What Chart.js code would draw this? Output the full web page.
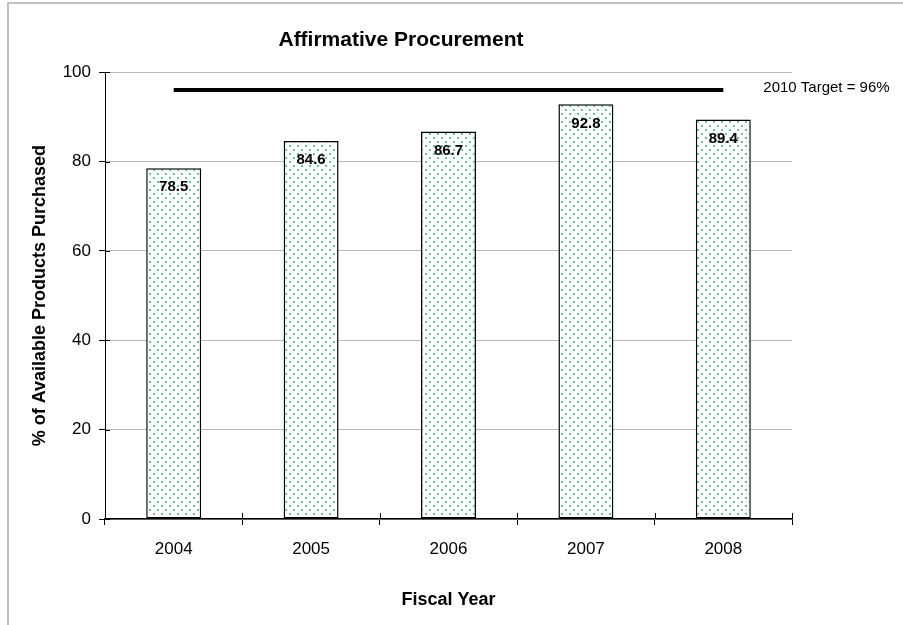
<!DOCTYPE html>
<html>
<head>
<meta charset="utf-8">
<script src="https://cdn.jsdelivr.net/npm/chart.js@4/dist/chart.umd.min.js"></script>
<style>
  html, body { margin: 0; padding: 0; background: #fff; overflow: hidden; }
  #frame { position: absolute; left: 7px; top: 2px; width: 1000px; height: 1000px;
           border-left: 2px solid #c0c0c0; border-top: 2px solid #c0c0c0; pointer-events: none; }
  canvas { position: absolute; left: 0; top: 0; }
</style>
</head>
<body>
<canvas id="procChart" width="903" height="625"></canvas>
<div id="frame"></div>
<script>
  // data
  const years = ['2004', '2005', '2006', '2007', '2008'];
  const purchased = [78.5, 84.6, 86.7, 92.8, 89.4];
  const target = [96, 96, 96, 96, 96];
  const targetLabel = '2010 Target = 96%';
  const yMin = 0, yMax = 100, yStep = 20;

  const FONT = 'Arial, "Liberation Sans", sans-serif';

  // dotted green fill like the old Excel pattern
  function dotPattern() {
    const c = document.createElement('canvas');
    c.width = 8; c.height = 8;
    const g = c.getContext('2d');
    g.fillStyle = '#ffffff';
    g.fillRect(0, 0, 8, 8);
    g.fillStyle = 'rgb(110,196,150)';
    g.fillRect(1, 1, 2, 2);
    g.fillRect(5, 5, 2, 2);
    return document.getElementById('procChart').getContext('2d').createPattern(c, 'repeat');
  }

  // ticks that cross the axis lines, plus value labels and target note
  const extras = {
    id: 'extras',
    afterDatasetsDraw(chart) {
      const ctx = chart.ctx;
      const x = chart.scales.x, y = chart.scales.y;
      ctx.save();
      ctx.strokeStyle = '#000';
      ctx.lineWidth = 1;
      const step = x.width / years.length;
      for (let i = 0; i <= years.length; i++) {
        const px = Math.round(x.left + i * step) + 0.5;
        ctx.beginPath();
        ctx.moveTo(px, x.top - 6);
        ctx.lineTo(px, x.top);
        ctx.stroke();
      }
      for (let v = yMin; v <= yMax; v += yStep) {
        const py = Math.round(y.getPixelForValue(v)) + 0.5;
        ctx.beginPath();
        ctx.moveTo(y.right, py);
        ctx.lineTo(y.right + 5, py);
        ctx.stroke();
      }

      // bar values
      ctx.fillStyle = '#000';
      ctx.font = 'bold 15px ' + FONT;
      ctx.textAlign = 'center';
      ctx.textBaseline = 'middle';
      chart.getDatasetMeta(1).data.forEach((bar, i) => {
        ctx.fillText(purchased[i].toFixed(1), bar.x, bar.y + 19);
      });

      // target note
      ctx.font = '15px ' + FONT;
      ctx.textAlign = 'left';
      ctx.fillText(targetLabel, x.getPixelForValue(years.length - 1) + 40, y.getPixelForValue(target[0]) - 2);
      ctx.restore();
    }
  };

  const ctx = document.getElementById('procChart').getContext('2d');
  const procChart = new Chart(ctx, {
    type: 'bar',
    data: {
      labels: years,
      datasets: [
        {
          type: 'line',
          label: 'Target',
          data: target,
          borderColor: '#000',
          borderWidth: 4,
          pointRadius: 0,
          order: 0
        },
        {
          label: 'Purchased',
          data: purchased,
          backgroundColor: dotPattern(),
          borderColor: '#000',
          borderWidth: 1.5,
          borderSkipped: false,
          categoryPercentage: 1,
          barPercentage: 0.4,
          order: 1
        }
      ]
    },
    options: {
      responsive: false,
      animation: false,
      layout: { padding: { left: 10, right: 111, top: 0, bottom: 10 } },
      plugins: {
        legend: { display: false },
        tooltip: { enabled: false },
        title: {
          display: true,
          text: 'Affirmative Procurement',
          color: '#000',
          font: { family: FONT, size: 21, weight: 'bold' },
          padding: { top: 28, bottom: 19 }
        }
      },
      scales: {
        x: {
          afterFit: function(scale) { scale.height = 96; },
          border: { color: '#000', width: 1.5 },
          grid: { offset: true, drawOnChartArea: false, tickLength: 6, tickColor: '#000' },
          ticks: { color: '#000', padding: 14, font: { family: FONT, size: 17 } },
          title: {
            display: true,
            text: 'Fiscal Year',
            color: '#000',
            font: { family: FONT, size: 18, weight: 'bold' },
            padding: { top: 0, bottom: 4 }
          }
        },
        y: {
          min: yMin,
          max: yMax,
          afterFit: function(scale) { scale.width = 95; },
          border: { color: '#000', width: 1 },
          grid: { color: '#b8b8b8', tickLength: 6, tickColor: '#000' },
          ticks: { stepSize: yStep, color: '#000', padding: 8, font: { family: FONT, size: 17 } },
          title: {
            display: true,
            text: '% of Available Products Purchased',
            color: '#000',
            font: { family: FONT, size: 18, weight: 'bold' },
            padding: { top: 19, bottom: 0 }
          }
        }
      }
    },
    plugins: [extras]
  });
</script>
</body>
</html>
